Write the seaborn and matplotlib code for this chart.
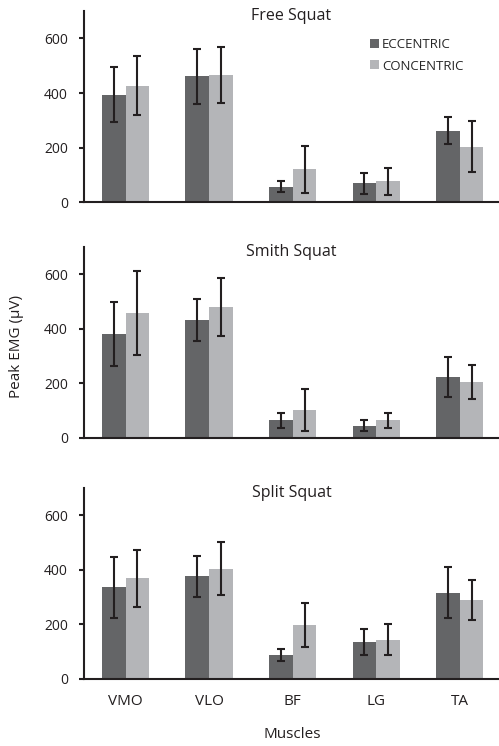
"""Peak EMG by muscle for three squat variations."""
import numpy as np
import pandas as pd
import matplotlib
matplotlib.use('Agg')
import matplotlib.pyplot as plt
import seaborn as sns

sns.set_theme(style='ticks')
plt.rcParams['font.family'] = ['Open Sans', 'DejaVu Sans']

muscles = ['VMO', 'VLO', 'BF', 'LG', 'TA']
phases = ['ECCENTRIC', 'CONCENTRIC']
squats = ['Free Squat', 'Smith Squat', 'Split Squat']

# mean peak EMG and SD, ordered as muscles
free_ecc = [394, 462, 56, 69, 262]
free_con = [427, 467, 120, 76, 204]
free_ecc_sd = [100, 101, 20, 38, 50]
free_con_sd = [108, 103, 85, 48, 95]

smith_ecc = [382, 432, 65, 45, 224]
smith_con = [457, 480, 102, 64, 204]
smith_ecc_sd = [117, 77, 27, 21, 74]
smith_con_sd = [153, 107, 76, 27, 62]

split_ecc = [335, 376, 88, 136, 316]
split_con = [369, 403, 197, 144, 288]
split_ecc_sd = [112, 75, 23, 48, 94]
split_con_sd = [105, 97, 80, 56, 74]

means = {'Free Squat': (free_ecc, free_con),
         'Smith Squat': (smith_ecc, smith_con),
         'Split Squat': (split_ecc, split_con)}
sds = {'Free Squat': (free_ecc_sd, free_con_sd),
       'Smith Squat': (smith_ecc_sd, smith_con_sd),
       'Split Squat': (split_ecc_sd, split_con_sd)}

palette = {'ECCENTRIC': '#646567', 'CONCENTRIC': '#b4b5b8'}
ink = '#231f20'

fig = plt.figure(figsize=(4.99, 7.46), dpi=100)
bottoms = [0.729, 0.413, 0.090]

for k, squat in enumerate(squats):
    ax = fig.add_axes([0.168, bottoms[k], 0.832, 0.256])
    ecc, con = means[squat]
    ecc_sd, con_sd = sds[squat]
    df = pd.DataFrame({
        'muscle': muscles * 2,
        'phase': [phases[0]] * 5 + [phases[1]] * 5,
        'emg': ecc + con,
        'sd': ecc_sd + con_sd,
    })
    sns.barplot(data=df, x='muscle', y='emg', hue='phase', order=muscles,
                hue_order=phases, palette=palette, width=0.567, gap=0,
                errorbar=None, saturation=1, linewidth=0, ax=ax,
                legend=(k == 0))

    # error bars at bar centres
    for container, phase in zip(ax.containers, phases):
        sub = df[df['phase'] == phase].set_index('muscle').loc[muscles]
        xs = [p.get_x() + p.get_width() / 2 for p in container.patches]
        ax.errorbar(xs, sub['emg'].values, yerr=sub['sd'].values, fmt='none',
                    ecolor=ink, elinewidth=1.5, capsize=2.6, capthick=1.5)

    ax.set_ylim(0, 700)
    ax.set_xlim(-0.5, 4.47)
    ax.set_yticks([0, 200, 400, 600])
    ax.tick_params(axis='y', length=3.5, width=1.5, labelsize=10, colors=ink,
                   pad=8)
    ax.tick_params(axis='x', length=0, labelsize=11, pad=11, colors=ink)
    sns.despine(ax=ax)
    for side in ['left', 'bottom']:
        ax.spines[side].set_linewidth(1.5)
        ax.spines[side].set_color(ink)
    ax.set_xlabel('')
    ax.set_ylabel('')
    if k < 2:
        ax.set_xticklabels([])
    ax.text(0.5, 1.015, squat, transform=ax.transAxes, ha='center', va='top',
            fontsize=11.5, color=ink)
    if k == 0:
        ax.legend(loc='upper left', bbox_to_anchor=(0.69, 0.86), frameon=False,
                  fontsize=9.5, handlelength=0.65, handleheight=0.65,
                  handletextpad=0.25, labelspacing=0.65, borderaxespad=0,
                  borderpad=0)

fig.text(0.034, 0.536, 'Peak EMG (\u03bcV)', rotation=90, ha='center',
         va='center', fontsize=11, color=ink)
fig.text(0.585, 0.015, 'Muscles', ha='center', va='center', fontsize=11,
         color=ink)

fig.savefig('out.png', dpi=100)
